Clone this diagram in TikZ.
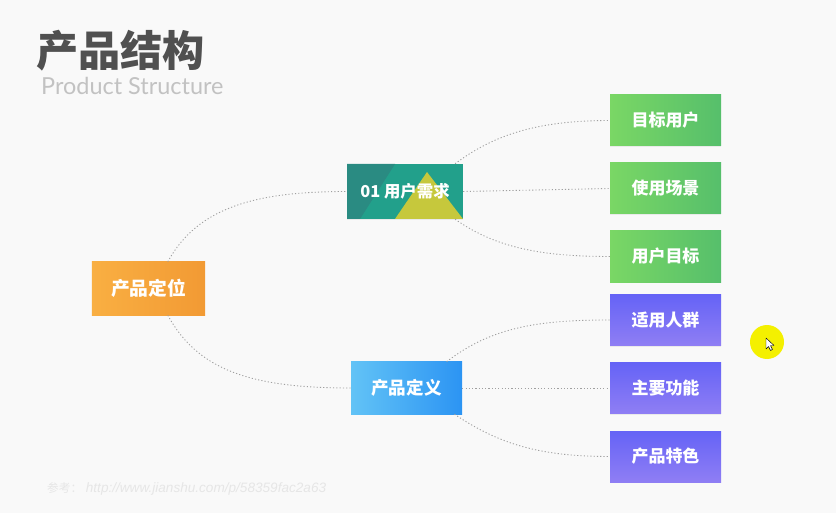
\documentclass[tikz,border=0pt]{standalone}
\usepackage{fontspec}
\newfontfamily\cjk{Noto Sans CJK SC}
\newfontfamily\latof{Lato}
\newfontfamily\arialf{Liberation Sans}
\usetikzlibrary{calc,shadows}
\definecolor{bg}{HTML}{F9F9F9}
\definecolor{titlegray}{HTML}{505050}
\definecolor{subgray}{HTML}{C2C2C2}
\definecolor{urlgray}{HTML}{E6E6E6}
\definecolor{orangeL}{HTML}{F9AF42}
\definecolor{orangeR}{HTML}{F29A34}
\definecolor{tealM}{HTML}{22A08B}
\definecolor{tealD}{HTML}{2A8B82}
\definecolor{triY}{HTML}{C6C83C}
\definecolor{greenL}{HTML}{7AD765}
\definecolor{greenR}{HTML}{56BF6B}
\definecolor{blueL}{HTML}{62C3F6}
\definecolor{blueR}{HTML}{2C94F3}
\definecolor{purpT}{HTML}{6563F6}
\definecolor{purpB}{HTML}{8F7EF4}
\definecolor{dotgray}{HTML}{A0A0A0}
\definecolor{cursorY}{HTML}{F4F000}
\begin{document}
\begin{tikzpicture}[x=0.03cm,y=-0.03cm,
  boxbase/.style={rectangle, inner sep=0pt, text=white,
    drop shadow={opacity=0.12, shadow xshift=0pt, shadow yshift=-1.2pt}},
  leafbox/.style={boxbase, minimum width=3.33cm, minimum height=1.53cm,
    font=\cjk\bfseries\fontsize{14.5}{15}\selectfont},
  greenbox/.style={leafbox, left color=greenL, right color=greenR},
  purpbox/.style={leafbox, top color=purpT, bottom color=purpB},
  conn/.style={draw=dotgray, line width=0.75pt, dash pattern=on 1pt off 1.8pt}
]
\fill[bg] (0,0) rectangle (836,513);
\useasboundingbox (0,0) rectangle (836,513);

% title
\node[anchor=west, inner sep=0pt, text=titlegray,
  font=\cjk\bfseries\fontsize{36}{36}\selectfont] (title) at (36,51) {产品结构};
\node[anchor=west, inner sep=0pt, text=subgray,
  font=\latof\fontsize{20}{20}\selectfont] (sub) at (41,86) {Product Structure};

% root
\node[boxbase, minimum width=3.39cm, minimum height=1.59cm,
  left color=orangeL, right color=orangeR,
  font=\cjk\bfseries\fontsize{16}{16}\selectfont] (pos) at (148.5,288.5) {产品定位};

% 01 user need node
\node[boxbase, minimum width=3.48cm, minimum height=1.65cm, fill=tealM,
  path picture={
    \coordinate (bb) at (path picture bounding box.north west);
    \fill[tealD] (bb) -- ($(bb)+(48,0)$) -- ($(bb)+(13,55)$) -- ($(bb)+(0,55)$) -- cycle;
    \fill[triY] ($(bb)+(80,8)$) -- ($(bb)+(48,55)$) -- ($(bb)+(116,55)$) -- cycle;
  }] (u1) at (405,191.5) {};
\node[inner sep=0pt, text=white, font=\cjk\bfseries\fontsize{14}{14}\selectfont] (u1t) at (u1.center) {01 用户需求};

% definition node
\node[boxbase, minimum width=3.33cm, minimum height=1.56cm,
  left color=blueL, right color=blueR,
  font=\cjk\bfseries\fontsize{15}{15}\selectfont] (def) at (406.5,388) {产品定义};

% leaves
\node[greenbox] (g1) at (665.5,120.5) {目标用户};
\node[greenbox] (g2) at (665.5,188.5) {使用场景};
\node[greenbox] (g3) at (665.5,256.5) {用户目标};
\node[purpbox] (p1) at (665.5,320) {适用人群};
\node[purpbox] (p2) at (665.5,388) {主要功能};
\node[purpbox] (p3) at (665.5,456.5) {产品特色};

% connectors
\draw[conn] ($(pos.north west)!0.67!(pos.north east)$) .. controls +(30,-55) and +(-90,0) .. (u1.west);
\draw[conn] ($(pos.south west)!0.67!(pos.south east)$) .. controls +(30,55) and +(-100,0) .. (def.west);
\draw[conn] ($(u1.north west)!0.93!(u1.north east)$) .. controls +(40,-30) and +(-70,0) .. (g1.west);
\draw[conn] (u1.east) -- (g2.west);
\draw[conn] ($(u1.south west)!0.93!(u1.south east)$) .. controls +(40,28) and +(-70,0) .. (g3.west);
\draw[conn] ($(def.north west)!0.86!(def.north east)$) .. controls +(45,-35) and +(-70,0) .. (p1.west);
\draw[conn] (def.east) -- (p2.west);
\draw[conn] ($(def.south west)!0.93!(def.south east)$) .. controls +(45,30) and +(-70,0) .. (p3.west);

% reference url
\node[anchor=west, inner sep=0pt, text=urlgray] (ref) at (47,489)
  {{\cjk\fontsize{10}{10}\selectfont 参考：}\hspace{3pt}{\arialf\itshape\fontsize{11.6}{12}\selectfont http://www.jianshu.com/p/58359fac2a63}};

% cursor highlight
\fill[cursorY] (767,342) circle[radius=17];
\coordinate (ct) at (766,338);
\filldraw[fill=white, draw=black, line width=0.4pt, line join=round]
  (ct) -- ($(ct)+(0,11)$) -- ($(ct)+(2.5,8.5)$) -- ($(ct)+(4.5,12.5)$) -- ($(ct)+(6.5,11.5)$)
  -- ($(ct)+(4.5,7.5)$) -- ($(ct)+(8,7.5)$) -- cycle;
\end{tikzpicture}
\end{document}
